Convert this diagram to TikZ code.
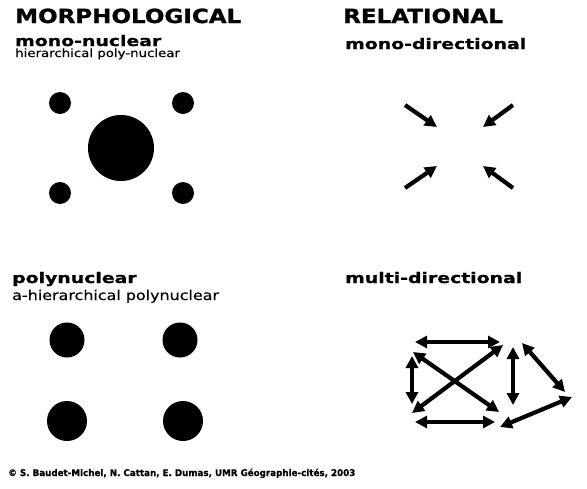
\documentclass[tikz,border=0pt]{standalone}
\usepackage{fontspec}
\setmainfont{DejaVu Sans}
\newfontfamily\headfont[FakeStretch=1.18,FakeBold=1.2]{DejaVu Sans Bold}
\newfontfamily\subfont[FakeStretch=1.3,FakeBold=1]{DejaVu Sans Bold}
\newfontfamily\notefont[FakeStretch=1.18,FakeBold=0.5]{DejaVu Sans}
\newfontfamily\footfont[FakeStretch=0.95,FakeBold=0.5]{DejaVu Sans Bold}
\usetikzlibrary{arrows.meta}
\tikzset{
  head/.style={anchor=base west, inner sep=0pt, font=\headfont\fontsize{19.5}{23}\selectfont},
  sub/.style={anchor=base west, inner sep=0pt, font=\subfont\fontsize{14.5}{17}\selectfont},
  note/.style={anchor=base west, inner sep=0pt, font=\notefont\fontsize{11.3}{13}\selectfont},
  bignote/.style={anchor=base west, inner sep=0pt, font=\notefont\fontsize{13.5}{16}\selectfont},
  foot/.style={anchor=base west, inner sep=0pt, font=\footfont\fontsize{9.2}{11}\selectfont},
  nucleus/.style={circle, fill=black, inner sep=0pt, minimum size=#1},
  flow/.style={line width=4.2pt, -{Triangle[length=12pt,width=12pt]}},
  biflow/.style={line width=4.2pt, {Triangle[length=12pt,width=12pt]}-{Triangle[length=12pt,width=12pt]}}
}
\begin{document}
\begin{tikzpicture}[x=1pt,y=-1pt]
\useasboundingbox (0,0) rectangle (587,488);
\fill[white] (0,0) rectangle (587,488);
% headings
\node[head] (morph) at (15,23) {MORPHOLOGICAL};
\node[head] (rel) at (343,23) {RELATIONAL};
\node[sub] (mono) at (15,46) {mono-nuclear};
\node[note] (hier) at (15,57) {hierarchical poly-nuclear};
\node[sub] (monodir) at (345,49) {mono-directional};
\node[sub] (poly) at (12,283) {polynuclear};
\node[bignote] (ahier) at (12,300) {a-hierarchical polynuclear};
\node[sub] (multidir) at (345,283) {multi-directional};
\node[foot] (credit) at (8,476) {© S. Baudet-Michel, N. Cattan, E. Dumas, UMR Géographie-cités, 2003};
% mono-nuclear circles
\node[nucleus=22pt] (n1) at (60,103) {};
\node[nucleus=22pt] (n2) at (183,103) {};
\node[nucleus=22pt] (n3) at (60,193) {};
\node[nucleus=22pt] (n4) at (183,193) {};
\node[nucleus=66pt] (nc) at (121,148) {};
% polynuclear circles
\node[nucleus=35pt] (p1) at (67,340) {};
\node[nucleus=35pt] (p2) at (180,340) {};
\node[nucleus=40pt] (p3) at (67,421) {};
\node[nucleus=40pt] (p4) at (183,421) {};
% mono-directional arrows
\coordinate (a1s) at (405,105); \coordinate (a1e) at (437,127);
\coordinate (a2s) at (513,105); \coordinate (a2e) at (483,127);
\coordinate (a3s) at (405,188); \coordinate (a3e) at (437,166);
\coordinate (a4s) at (513,188); \coordinate (a4e) at (483,166);
\draw[flow] (a1s) -- (a1e);
\draw[flow] (a2s) -- (a2e);
\draw[flow] (a3s) -- (a3e);
\draw[flow] (a4s) -- (a4e);
% multi-directional arrows
\coordinate (tl) at (415,342); \coordinate (tr) at (500,342);
\coordinate (bl) at (415,422); \coordinate (br) at (495,422);
\coordinate (lt) at (412,356); \coordinate (lb) at (412,404);
\coordinate (d1s) at (413,352); \coordinate (d1e) at (499,412);
\coordinate (d2s) at (412,413); \coordinate (d2e) at (503,345);
\coordinate (mt) at (513,347); \coordinate (mb) at (513,405);
\coordinate (rt) at (522,343); \coordinate (rb) at (565,392);
\coordinate (rr) at (572,397); \coordinate (rl) at (500,427);
\draw[biflow] (tl) -- (tr);
\draw[biflow] (bl) -- (br);
\draw[biflow] (lt) -- (lb);
\draw[biflow] (d1s) -- (d1e);
\draw[biflow] (d2s) -- (d2e);
\draw[biflow] (mt) -- (mb);
\draw[biflow] (rt) -- (rb);
\draw[biflow] (rr) -- (rl);
\end{tikzpicture}
\end{document}
